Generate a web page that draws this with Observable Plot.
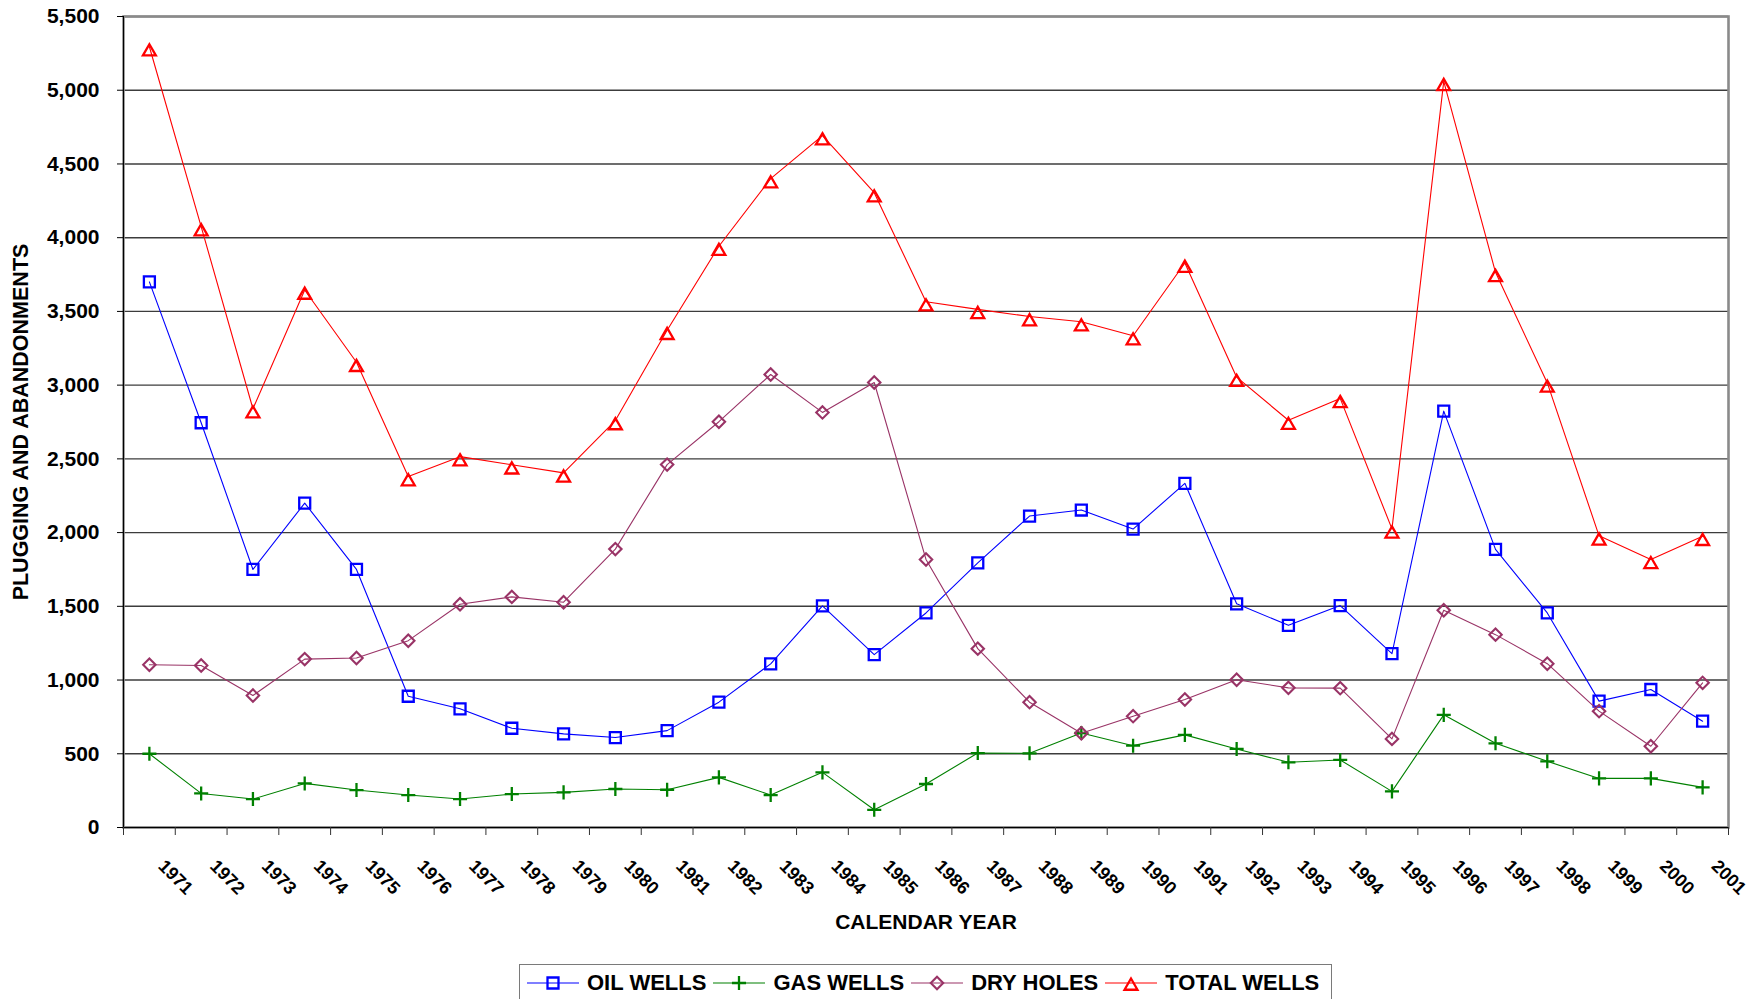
<!DOCTYPE html>
<html>
<head>
<meta charset="utf-8">
<script src="https://cdn.jsdelivr.net/npm/d3@7"></script>
<script src="https://cdn.jsdelivr.net/npm/@observablehq/plot@0.6"></script>
<style>
  html, body { margin: 0; padding: 0; background: #fff; }
  #legend {
    margin-left: 519px; margin-top: 9px; width: 811px; height: 36px;
    border: 1px solid #7a7a7a; box-sizing: content-box;
    display: flex; align-items: center; padding-left: 0;
    font-family: 'Liberation Sans', Arial, sans-serif; font-weight: bold; font-size: 22px; color: #000;
  }
  #legend .item { display: flex; align-items: center; }
  #legend svg { display: block; }
</style>
</head>
<body>
<div id="chart"></div>
<div id="legend"></div>
<script>
// ---- data ----
const years = [1971, 1972, 1973, 1974, 1975, 1976, 1977, 1978, 1979, 1980,
               1981, 1982, 1983, 1984, 1985, 1986, 1987, 1988, 1989, 1990,
               1991, 1992, 1993, 1994, 1995, 1996, 1997, 1998, 1999, 2000, 2001];
const oilWells   = [3700, 2745, 1750, 2200, 1750, 890, 805, 673, 635, 610,
                    657, 850, 1110, 1503, 1172, 1455, 1795, 2112, 2153, 2024,
                    2334, 1517, 1371, 1505, 1179, 2824, 1886, 1455, 857, 936, 721];
const gasWells   = [500, 231, 193, 299, 254, 220, 193, 227, 238, 261,
                    256, 340, 220, 374, 120, 295, 505, 503, 641, 555,
                    628, 533, 442, 458, 245, 764, 571, 449, 333, 333, 272];
const dryHoles   = [1104, 1099, 895, 1142, 1149, 1267, 1514, 1564, 1528, 1888,
                    2461, 2752, 3072, 2815, 3018, 1818, 1213, 850, 639, 755,
                    868, 1002, 947, 945, 601, 1473, 1308, 1111, 789, 551, 981];
const totalWells = [5295, 4075, 2840, 3645, 3155, 2380, 2515, 2460, 2405, 2760,
                    3372, 3942, 4400, 4692, 4305, 3566, 3514, 3465, 3430, 3335,
                    3828, 3054, 2762, 2910, 2025, 5060, 3765, 3015, 1978, 1818, 1975];
const seriesNames = ["OIL WELLS", "GAS WELLS", "DRY HOLES", "TOTAL WELLS"];
const yTickValues = [0, 500, 1000, 1500, 2000, 2500, 3000, 3500, 4000, 4500, 5000, 5500];
const xTitle = "CALENDAR YEAR";
const yTitle = "PLUGGING AND ABANDONMENTS";

// ---- styles ----
const seriesValues = [oilWells, gasWells, dryHoles, totalWells];
const styles = [
  {color: "#0000ff", symbol: "square",   d3sym: d3.symbolSquare,   r: 6.2, sw: 2.3, dy: 0},
  {color: "#008000", symbol: "plus",     d3sym: d3.symbolPlus,     r: 4.6, sw: 2.3, dy: 0},
  {color: "#993366", symbol: "diamond2", d3sym: d3.symbolDiamond2, r: 5.6, sw: 2.1, dy: 0},
  {color: "#ff0000", symbol: "triangle", d3sym: d3.symbolTriangle, r: 4.8, sw: 2.3, dy: 5}
];

const rows = [];
seriesNames.forEach((s, k) => {
  years.forEach((yr, i) => rows.push({year: yr, series: s, value: seriesValues[k][i]}));
});

const xBoundaries = years.map(y => y - 0.5).concat([years[years.length - 1] + 0.5]);

const seriesMarks = [];
seriesNames.forEach((s, k) => {
  const data = rows.filter(d => d.series === s);
  const st = styles[k];
  seriesMarks.push(Plot.line(data, {x: "year", y: "value", stroke: st.color, strokeWidth: 1.1}));
  seriesMarks.push(Plot.dot(data, {x: "year", y: "value", symbol: st.symbol, r: st.r,
    stroke: st.color, strokeWidth: st.sw, fill: "none", dy: st.dy}));
});

const chart = Plot.plot({
  width: 1758,
  height: 955,
  marginLeft: 123,
  marginRight: 30,
  marginTop: 16,
  marginBottom: 128,
  style: {fontFamily: "'Liberation Sans', Arial, sans-serif", fontWeight: "bold", color: "#000", background: "#fff", overflow: "visible"},
  x: {type: "linear", domain: [xBoundaries[0], xBoundaries[xBoundaries.length - 1]]},
  y: {type: "linear", domain: [0, 5500]},
  marks: [
    Plot.ruleY(yTickValues, {stroke: "#3c3c3c", strokeWidth: 1.4}),
    Plot.frame({stroke: "#8a8a8a", strokeWidth: 2.6}),
    Plot.ruleX([xBoundaries[0]], {stroke: "#000", strokeWidth: 1}),
    Plot.ruleY([0], {stroke: "#000", strokeWidth: 1.2}),
    Plot.axisY({ticks: yTickValues, tickSize: 6, tickPadding: 18, tickFormat: d3.format(","),
      fontSize: 21, fontWeight: "bold", stroke: "#000", label: null}),
    Plot.axisX({ticks: xBoundaries, tickSize: 8, tickFormat: () => "", stroke: "#333", label: null}),
    Plot.text(years, {x: d => d, frameAnchor: "bottom", dx: 12, dy: 35.6, rotate: 45,
      textAnchor: "start", lineAnchor: "middle", fontSize: 18, fontWeight: "bold", text: d => String(d)}),
    Plot.text([xTitle], {frameAnchor: "bottom", dy: 95, fontSize: 21, textAnchor: "middle",
      lineAnchor: "middle", text: d => d}),
    Plot.text([yTitle], {frameAnchor: "left", dx: -102, rotate: -90, fontSize: 21.5,
      textAnchor: "middle", lineAnchor: "middle", text: d => d}),
    ...seriesMarks
  ]
});
document.getElementById("chart").appendChild(chart);

// ---- legend ----
const legend = d3.select("#legend");
seriesNames.forEach((s, k) => {
  const st = styles[k];
  const item = legend.append("div").attr("class", "item")
    .style("margin-left", "7px");
  const svg = item.append("svg").attr("width", 52).attr("height", 24);
  svg.append("line").attr("x1", 0).attr("x2", 52).attr("y1", 12).attr("y2", 12)
    .attr("stroke", st.color).attr("stroke-width", 1.1);
  svg.append("path")
    .attr("d", d3.symbol(st.d3sym, Math.PI * st.r * st.r)())
    .attr("transform", `translate(26,${12 + (k === 3 ? 3 : 0)})`)
    .attr("fill", "none").attr("stroke", st.color).attr("stroke-width", st.sw);
  item.append("span").text(s).style("margin-left", "8px");
});
</script>
</body>
</html>
